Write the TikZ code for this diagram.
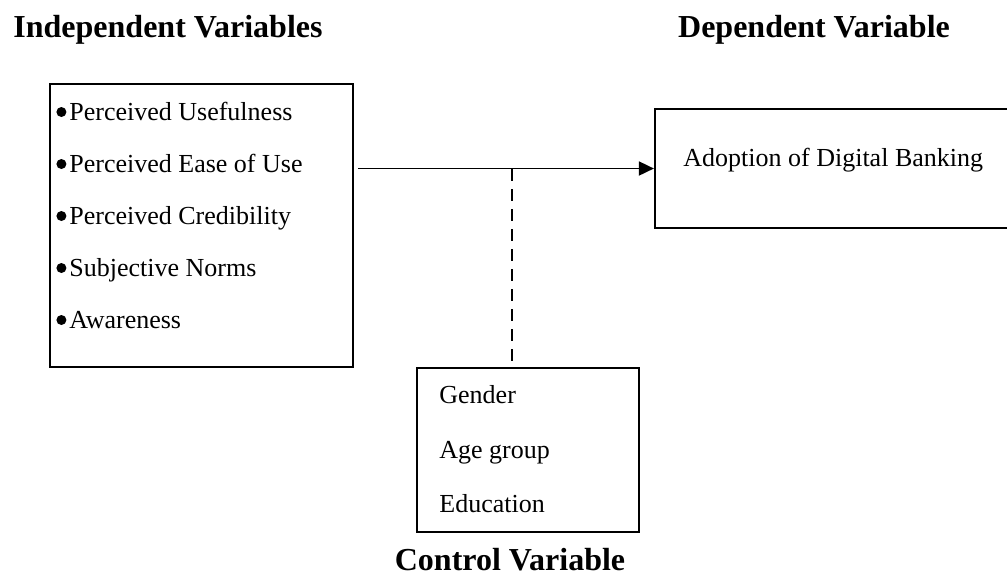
\documentclass[tikz,border=0pt]{standalone}
\usepackage{fontspec}
\setmainfont{Liberation Serif}
\usetikzlibrary{positioning,arrows.meta}
\newcommand{\dotmark}{\raisebox{1.5pt}{\tikz\fill[black] (0,0) circle (2.5pt);}\hspace{1.5pt}}
\tikzset{
  every node/.style={font=\fontsize{13}{15}\selectfont, inner sep=0pt},
  heading/.style={font=\fontsize{16}{19}\selectfont\bfseries, anchor=base},
  item/.style={anchor=base west},
  varbox/.style={draw=black, line width=1.1pt, fill=none},
  arrow/.style={-{Triangle[length=7.5pt,width=7pt]}, line width=0.9pt, draw=black},
  dashline/.style={line width=1.1pt, dash pattern=on 6pt off 4pt},
}

\begin{document}
\begin{tikzpicture}[x=0.5pt, y=-0.5pt]
  \useasboundingbox (0,0) rectangle (1007,575);
  \clip (0,0) rectangle (1007,575);
  % headings
  \node[heading] (ivtitle) at (168,37) {Independent Variables};
  \node[heading] (dvtitle) at (814,37) {Dependent Variable};
  \node[heading] (cvtitle) at (510,570) {Control Variable};
  % independent variables
  \node[varbox, minimum width=151.5pt, minimum height=141.5pt] (iv) at (201.5,225.5) {};
  \node[item] (pu) at (56,120) {\dotmark Perceived Usefulness};
  \node[item] (peou) at (56,172) {\dotmark Perceived Ease of Use};
  \node[item] (pc) at (56,224) {\dotmark Perceived Credibility};
  \node[item] (sn) at (56,276) {\dotmark Subjective Norms};
  \node[item] (aw) at (56,328) {\dotmark Awareness};
  % dependent variable
  \node[varbox, minimum width=185pt, minimum height=59.5pt] (dv) at (840,168.5) {};
  \node[item] (adopt) at (683,166) {Adoption of Digital Banking};
  % control variables
  \node[varbox, minimum width=111pt, minimum height=82pt] (cv) at (528,450) {};
  \node[item] (gender) at (439,403) {Gender};
  \node[item] (age) at (439,458) {Age group};
  \node[item] (edu) at (439,512) {Education};
  % connectors
  \draw[arrow] ([xshift=2pt]iv.east |- dv.west) -- (dv.west);
  \coordinate (mod) at (512,169);
  \draw[dashline] (mod) -- (mod |- cv.north);
\end{tikzpicture}
\end{document}
